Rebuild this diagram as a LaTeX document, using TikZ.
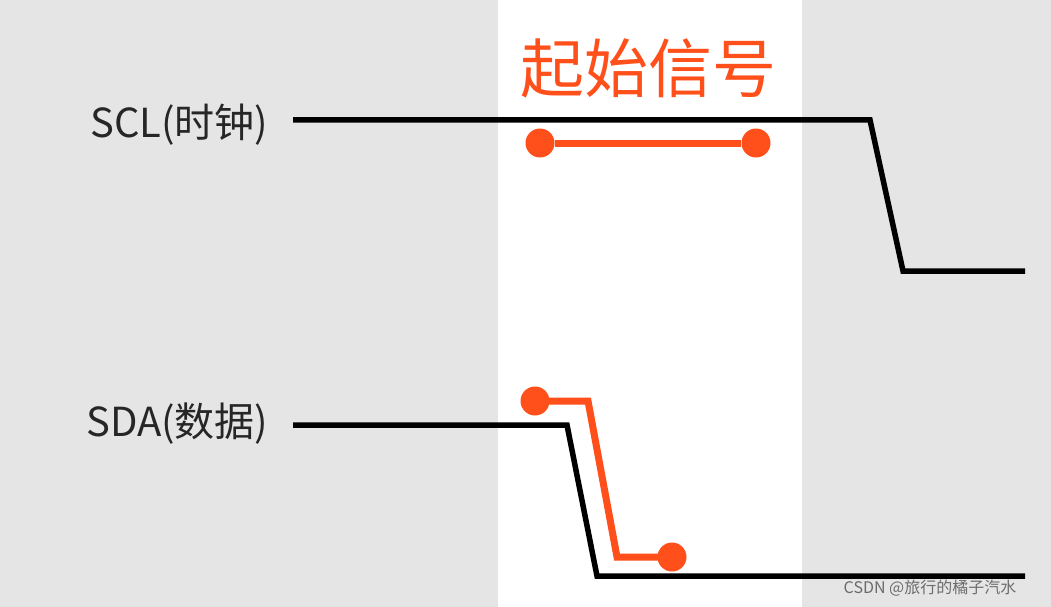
\documentclass[tikz,border=0pt]{standalone}
\usepackage{fontspec}
\setmainfont{Noto Sans CJK SC}
\definecolor{org}{HTML}{FF4F1A}
\definecolor{bg}{HTML}{E5E5E5}
\begin{document}
\begin{tikzpicture}[x=1pt,y=-1pt,
  sig/.style={line width=5.5pt,black},
  osig/.style={line width=7pt,org},
  dot/.style={circle,fill=org,inner sep=0pt,minimum size=29pt},
  lbl/.style={font=\fontsize{40}{44}\selectfont,anchor=east,text=black!85}]
\fill[bg] (0,0) rectangle (1051,607);
\fill[white] (498,0) rectangle (802,607);
\useasboundingbox (0,0) rectangle (1051,607);
\node[font=\fontsize{64}{66}\selectfont,text=org] (title) at (648,68) {起始信号};
\node[lbl] (scl) at (272,125) {SCL(时钟)};
\node[lbl] (sda) at (272,424) {SDA(数据)};
\coordinate (c1) at (293,120); \coordinate (c2) at (870,120);
\coordinate (c3) at (903,271); \coordinate (c4) at (1025,271);
\draw[sig] (c1) -- (c2) -- (c3) -- (c4);
\coordinate (d1) at (293,425); \coordinate (d2) at (567,425);
\coordinate (d3) at (597,576); \coordinate (d4) at (1025,576);
\draw[sig] (d1) -- (d2) -- (d3) -- (d4);
\node[dot] (a1) at (540,143) {}; \node[dot] (a2) at (756,143) {};
\draw[osig] (a1) -- (a2);
\node[dot] (b1) at (535,401) {}; \node[dot] (b2) at (672,557) {};
\coordinate (e1) at (588,401); \coordinate (e2) at (617,557);
\draw[osig] (b1.center) -- (e1) -- (e2) -- (b2.center);
\node[font=\fontsize{16}{17}\selectfont,text=gray!85!black] (wm) at (930,588) {CSDN @旅行的橘子汽水};
\end{tikzpicture}
\end{document}
